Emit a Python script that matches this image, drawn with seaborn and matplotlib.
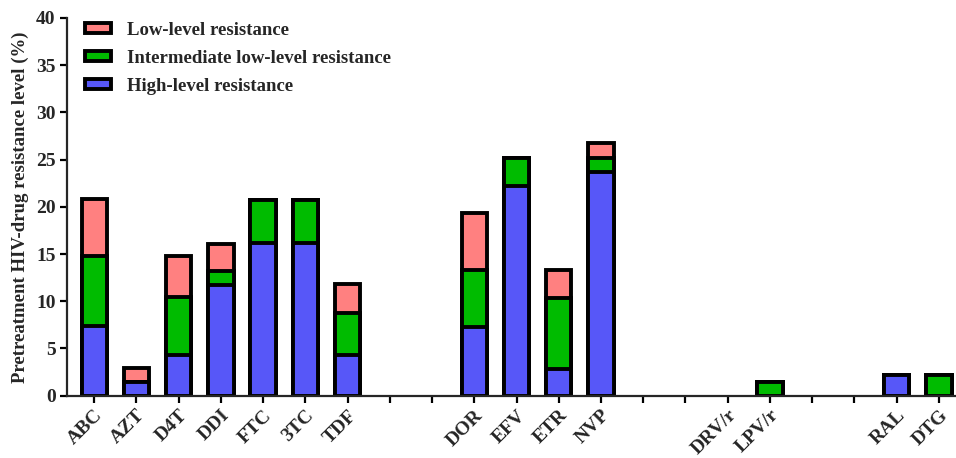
import matplotlib
matplotlib.use("Agg")
import matplotlib.pyplot as plt
import matplotlib.patches as mpatches
import seaborn as sns
import pandas as pd

# drug order on the x axis (gap slots keep the empty positions between classes)
order = ['ABC', 'AZT', 'D4T', 'DDI', 'FTC', '3TC', 'TDF', 'gap1', 'gap2',
         'DOR', 'EFV', 'ETR', 'NVP', 'gap3', 'gap4',
         'DRV/r', 'LPV/r', 'gap5', 'gap6', 'RAL', 'DTG']

drugs = ['ABC', 'AZT', 'D4T', 'DDI', 'FTC', '3TC', 'TDF',
         'DOR', 'EFV', 'ETR', 'NVP', 'DRV/r', 'LPV/r', 'RAL', 'DTG']
high = [7.4, 1.4, 4.3, 11.7, 16.2, 16.2, 4.3, 7.3, 22.2, 2.8, 23.7, 0.0, 0.0, 2.2, 0.0]
inter = [7.4, 0.0, 6.1, 1.5, 4.5, 4.5, 4.5, 6.0, 3.0, 7.5, 1.5, 0.0, 1.4, 0.0, 2.2]
low = [6.0, 1.5, 4.4, 2.9, 0.0, 0.0, 3.0, 6.0, 0.0, 3.0, 1.5, 0.0, 0.0, 0.0, 0.0]

series = ['Low-level resistance', 'Intermediate low-level resistance', 'High-level resistance']
colors = ['#FF8080', '#00BB00', '#5757F8']

df = pd.DataFrame({'drug': drugs, 'high': high, 'inter': inter, 'low': low})
df['mid_top'] = df['high'] + df['inter']
df['total'] = df['mid_top'] + df['low']

sns.set_style('ticks')
plt.rcParams['font.family'] = ['Liberation Serif', 'DejaVu Serif']
plt.rcParams['font.weight'] = 'bold'

fig = plt.figure(figsize=(9.56, 4.58), dpi=100)
ax = fig.add_axes([0.0698, 0.136, 0.93, 0.825])

# stacked look: draw cumulative heights from the tallest down
for col, c in zip(['total', 'mid_top', 'high'], colors):
    sub = df[df[col] > 0]
    sns.barplot(data=sub, x='drug', y=col, order=order, color=c, width=0.6,
                edgecolor='black', linewidth=2.8, errorbar=None, saturation=1, ax=ax)

ax.set_ylim(0, 40)
ax.set_yticks(range(0, 41, 5))
ax.set_xlim(-0.65, 20.4)
labels = ['' if o.startswith('gap') else o for o in order]
ax.set_xticks(range(len(order)))
ax.set_xticklabels(labels, rotation=45, ha='right', rotation_mode='anchor',
                   fontsize=14, fontweight='bold')
for t in ax.get_yticklabels():
    t.set_fontsize(14)
    t.set_fontweight('bold')

ax.set_xlabel('')
ax.set_ylabel('Pretreatment HIV-drug resistance level (%)', fontsize=13.5, fontweight='bold', labelpad=5)

for s in ['top', 'right']:
    ax.spines[s].set_visible(False)
for s in ['left', 'bottom']:
    ax.spines[s].set_linewidth(1.6)
ax.tick_params(axis='both', width=1.6, length=5, color='black', pad=3)

handles = [mpatches.Patch(facecolor=c, edgecolor='black', linewidth=2.8, label=s)
           for s, c in zip(series, colors)]
ax.legend(handles=handles, loc='upper left', bbox_to_anchor=(0.002, 1.035), frameon=False,
          prop={'size': 13.5, 'weight': 'bold'}, handlelength=1.35, handleheight=0.45,
          labelspacing=0.6, handletextpad=0.85)

fig.savefig('out.png', dpi=100)
